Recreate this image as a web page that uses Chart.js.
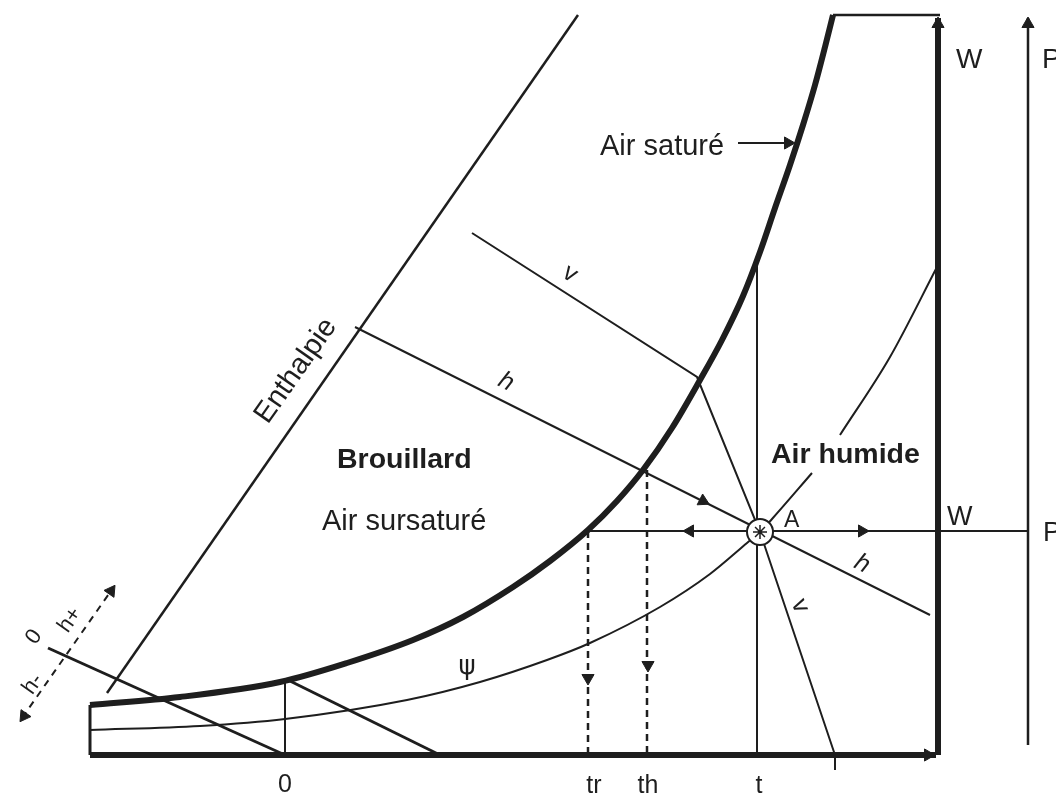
<!DOCTYPE html>
<html>
<head>
<meta charset="utf-8">
<script src="https://cdn.jsdelivr.net/npm/chart.js@4/dist/chart.umd.min.js"></script>
<style>
  body { margin: 0; background: #fff; }
  #wrap { width: 1056px; height: 795px; }
</style>
</head>
<body>
<div id="wrap"><canvas id="diagram" width="1056" height="795"></canvas></div>
<script>
// diagram coordinates (x to the right, y downwards)
var satCurve = [[90,705],[180,697],[280,682],[347,663],[413,640],[463,617],[513,587],[550,561],[588,530],[617,501],[643,470],[672,428],[700,380],[722,340],[743,296],[760,252],[775,208],[790,165],[803,125],[815,85],[825,47],[833,15]];
var psiLow = [[90,730],[200,726],[285,719],[407,700],[480,682],[547,660],[590,643],[660,607],[710,574],[747,543],[760,532],[772,519],[812,473]];
var psiHigh = [[840,435],[890,357],[937,267]];
var topLine = [[833,15],[940,15]];
var wAxis = [[938,755],[938,18]];
var pAxis = [[1028,745],[1028,18]];
var tempAxis = [[90,755],[936,755]];
var boxLeft = [[90,705],[90,755]];
var enthalpyAxis = [[107,693],[578,15]];
var hLine = [[355,327],[930,615]];
var vLine = [[472,233],[697,377],[760,532],[835,755]];
var vTick = [[835,755],[835,770]];
var tLine = [[757,258],[757,755]];
var wLine = [[588,531],[1028,531]];
var trLine = [[588,531],[588,755]];
var thLine = [[647,470],[647,755]];
var zeroLine = [[48,648],[285,755]];
var zeroLine2 = [[290,681],[440,755]];
var zeroTemp = [[285,680],[285,755]];
var hScale = [[22,718],[113,588]];
var satPointer = [[738,143],[788,143]];

var arrowPts = [[938,24],[1028,24],[928,755],[690,531],[862,531],[703,501],[588,678],[648,665],[24,716],[111,591],[788,143]];
var arrowRot = [0,0,90,270,90,117,180,180,215,35,90];
var pointA = [[760,532]];

var textLabels = [
  { t: 'Air saturé', x: 600, y: 155, size: 29 },
  { t: 'Brouillard', x: 337, y: 468, size: 28.5, bold: true },
  { t: 'Air sursaturé', x: 322, y: 530, size: 29 },
  { t: 'Air humide', x: 771, y: 463, size: 28.5, bold: true },
  { t: 'Enthalpie', x: 296, y: 371, size: 29, rot: -55, align: 'center', base: 'middle' },
  { t: 'A', x: 784, y: 527, size: 23 },
  { t: 'W', x: 956, y: 68, size: 28 },
  { t: 'P', x: 1042, y: 68, size: 28 },
  { t: 'W', x: 947, y: 525, size: 27 },
  { t: 'P', x: 1043, y: 541, size: 27 },
  { t: '0', x: 285, y: 792, size: 25, align: 'center' },
  { t: 'tr', x: 594, y: 793, size: 25, align: 'center' },
  { t: 'th', x: 648, y: 793, size: 25, align: 'center' },
  { t: 't', x: 759, y: 793, size: 25, align: 'center' },
  { t: 'h', x: 506, y: 382, size: 25, italic: true, rot: 27, align: 'center', base: 'middle' },
  { t: 'h', x: 862, y: 564, size: 25, italic: true, rot: 27, align: 'center', base: 'middle' },
  { t: 'v', x: 570, y: 274, size: 25, rot: 33, align: 'center', base: 'middle' },
  { t: 'v', x: 800, y: 606, size: 25, rot: 68, align: 'center', base: 'middle' },
  { t: 'ψ', x: 467, y: 667, size: 26, align: 'center', base: 'middle', face: 'DejaVu Sans' },
  { t: 'h-', x: 33, y: 684, size: 22, rot: -55, align: 'center', base: 'middle' },
  { t: '0', x: 34, y: 637, size: 22, rot: -55, align: 'center', base: 'middle' },
  { t: 'h+', x: 70, y: 620, size: 22, rot: -55, align: 'center', base: 'middle' }
];

var ink = '#1e1e1e';
var FONT = '"Liberation Sans", Arial, sans-serif';

function pts(arr) {
  return arr.map(function (p) { return { x: p[0], y: p[1] }; });
}

function line(arr, width, dash, smooth) {
  return {
    data: pts(arr),
    showLine: true,
    borderColor: ink,
    borderWidth: width,
    borderDash: dash || [],
    pointRadius: 0,
    cubicInterpolationMode: smooth ? 'monotone' : 'default',
    tension: 0,
    fill: false,
    order: 3
  };
}

var datasets = [
  line(satCurve, 6, null, true),
  line(psiLow, 2, null, true),
  line(psiHigh, 2, null, true),
  line(topLine, 2.5),
  line(wAxis, 6),
  line(pAxis, 2.5),
  line(tempAxis, 6),
  line(boxLeft, 3),
  line(enthalpyAxis, 2.5),
  line(hLine, 2),
  line(vLine, 2),
  line(vTick, 2),
  line(tLine, 2),
  line(wLine, 2),
  line(trLine, 2.5, [7, 5]),
  line(thLine, 2.5, [7, 5]),
  line(zeroLine, 3),
  line(zeroLine2, 3),
  line(zeroTemp, 2),
  line(hScale, 2, [7, 6]),
  line(satPointer, 2),
  {
    data: pts(arrowPts),
    showLine: false,
    pointStyle: 'triangle',
    pointRadius: 7,
    pointRotation: arrowRot,
    backgroundColor: ink,
    borderColor: ink,
    borderWidth: 1,
    order: 2
  },
  {
    data: pts(pointA),
    showLine: false,
    pointStyle: 'circle',
    pointRadius: 13,
    backgroundColor: '#fff',
    borderColor: ink,
    borderWidth: 2,
    order: 1
  },
  {
    data: pts(pointA),
    showLine: false,
    pointStyle: 'star',
    pointRadius: 7,
    backgroundColor: ink,
    borderColor: ink,
    borderWidth: 1.5,
    order: 0
  }
];

var textPlugin = {
  id: 'diagramText',
  afterDraw: function (chart) {
    var ctx = chart.ctx;
    var sx = chart.scales.x, sy = chart.scales.y;
    ctx.save();
    ctx.fillStyle = ink;
    textLabels.forEach(function (l) {
      var style = (l.italic ? 'italic ' : '') + (l.bold ? 'bold ' : '');
      ctx.font = style + l.size + 'px ' + (l.face ? '"' + l.face + '", ' + FONT : FONT);
      ctx.textAlign = l.align || 'left';
      ctx.textBaseline = l.base || 'alphabetic';
      ctx.save();
      ctx.translate(sx.getPixelForValue(l.x), sy.getPixelForValue(l.y));
      if (l.rot) ctx.rotate(l.rot * Math.PI / 180);
      ctx.fillText(l.t, 0, 0);
      ctx.restore();
    });
    ctx.restore();
  }
};

new Chart(document.getElementById('diagram'), {
  type: 'scatter',
  data: { datasets: datasets },
  options: {
    responsive: false,
    animation: false,
    layout: { padding: 0, autoPadding: false },
    plugins: { legend: { display: false }, tooltip: { enabled: false } },
    scales: {
      x: { type: 'linear', min: 0, max: 1056, display: false },
      y: { type: 'linear', min: 0, max: 795, reverse: true, display: false }
    }
  },
  plugins: [textPlugin]
});
</script>
</body>
</html>
